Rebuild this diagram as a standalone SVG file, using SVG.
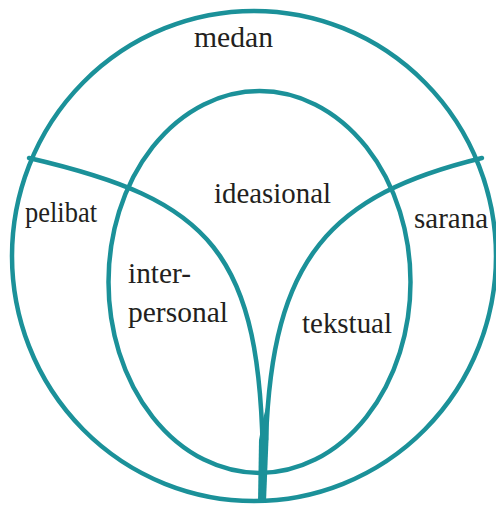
<svg xmlns="http://www.w3.org/2000/svg" width="496" height="505" viewBox="0 0 496 505">
<style>
.ln{fill:none;stroke:#1b9199;stroke-width:4.5;stroke-linecap:round}
</style>
<rect width="496" height="505" fill="#fff"/>
<g id="connectors">
<path class="ln" d="M29,158 C210,200 262,250 263,470"/>
<path class="ln" d="M482,158 C330,195 272,258 266,440"/>
<path d="M259,440 Q262,420 268,400 L268.5,440 L266,502 L258,502 Z" fill="#1b9199"/>
</g>
<g font-family="Liberation Serif, Times New Roman, serif" font-size="30" fill="#231f20">
<g id="medan"><ellipse class="ln" cx="254" cy="256" rx="242" ry="245"/><text x="194" y="47" textLength="79" lengthAdjust="spacingAndGlyphs">medan</text></g>
<g id="ideasional"><ellipse class="ln" cx="259.5" cy="282" rx="151" ry="191"/><text x="214" y="203" textLength="117" lengthAdjust="spacingAndGlyphs">ideasional</text></g>
<g id="pelibat"><text x="25" y="222" textLength="72" lengthAdjust="spacingAndGlyphs">pelibat</text></g>
<g id="sarana"><text x="414" y="228" textLength="74" lengthAdjust="spacingAndGlyphs">sarana</text></g>
<g id="interpersonal"><text x="128" y="283" textLength="63" lengthAdjust="spacingAndGlyphs">inter-</text><text x="128" y="322" textLength="100" lengthAdjust="spacingAndGlyphs">personal</text></g>
<g id="tekstual"><text x="302" y="333" textLength="90" lengthAdjust="spacingAndGlyphs">tekstual</text></g>
</g>
</svg>
